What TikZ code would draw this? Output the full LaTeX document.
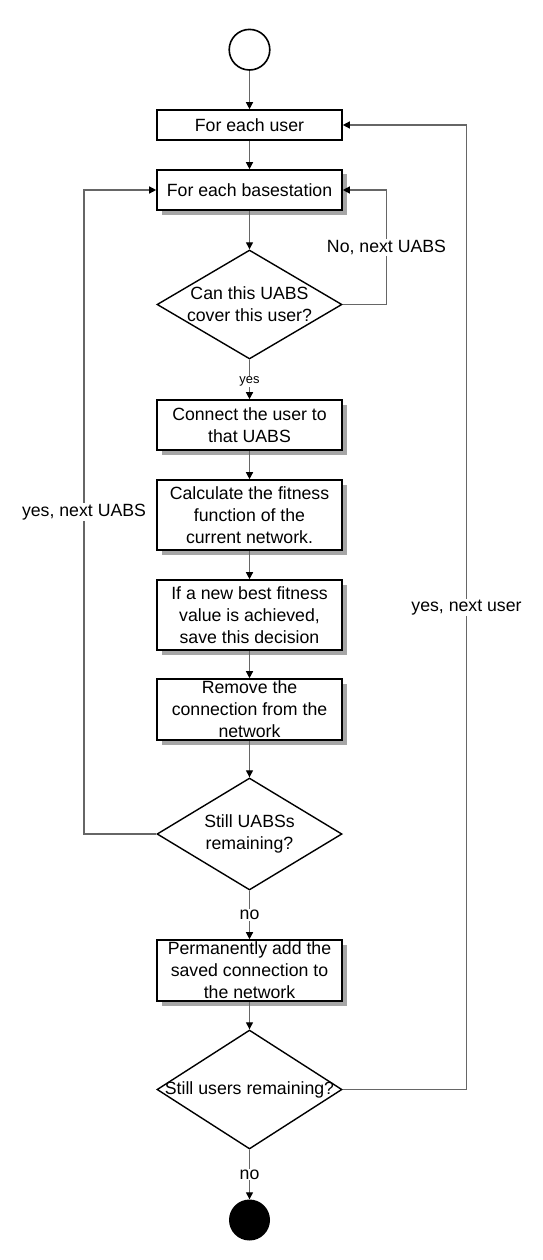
\documentclass[tikz,border=0pt]{standalone}
\usepackage{fontspec}
\setmainfont{Liberation Sans}
\usetikzlibrary{arrows.meta}
\usetikzlibrary{shapes.geometric}
\usetikzlibrary{shadows}
\tikzset{>={Triangle[length=7pt,width=7pt,color=black]}}
\colorlet{linegray}{black!60}
\colorlet{shadowgray}{black!35}
\tikzstyle{every node}=[font=\fontsize{17.7}{22}\selectfont]
\tikzstyle{box}=[draw=black,line width=1.6pt,fill=white,minimum width=185pt,
  inner ysep=0pt,align=center]
\tikzstyle{shadowbox}=[box,drop shadow={shadow xshift=4.5pt,shadow yshift=-4.5pt,
  fill=shadowgray,opacity=1}]
\tikzstyle{decision}=[draw=black,line width=1.4pt,diamond,minimum width=185pt,
  inner sep=0pt]
\tikzstyle{flow}=[->,line width=1.3pt,linegray]
\tikzstyle{lbl}=[fill=white,text=black,inner sep=1pt]

\begin{document}
\begin{tikzpicture}[x=1pt,y=-1pt]
  \useasboundingbox (0,0) rectangle (543,1260);
  \coordinate (lcol) at (84,0);    % left loop
  \coordinate (ncol) at (386.5,0); % inner loop
  \coordinate (rcol) at (466.5,0); % right loop

  % NODES
  \node[draw=black,line width=1.6pt,circle,minimum size=40.6pt,inner sep=0pt]
    (start) at (249.5,49.7) {};
  \node[box,minimum height=30pt] (user) at (249.5,125) {For each user};
  \node[shadowbox,minimum height=40pt] (base) at (249.5,190) {For each basestation};
  \node[decision,minimum height=109pt] (d1) at (249.5,304.5) {};
  \node[align=center] (d1txt) at (d1) {Can this UABS\\cover this user?};
  \node[shadowbox,minimum height=50pt] (conn) at (249.5,425) {Connect the user to\\that UABS};
  \node[shadowbox,minimum height=70pt] (calc) at (249.5,515)
    {Calculate the fitness\\function of the\\current network.};
  \node[shadowbox,minimum height=70pt] (best) at (249.5,615)
    {If a new best fitness\\value is achieved,\\save this decision};
  \node[shadowbox,minimum height=61pt] (remove) at (249.5,709.5)
    {Remove the\\connection from the\\network};
  \node[decision,minimum height=112pt] (d2) at (249.5,834) {};
  \node[align=center] (d2txt) at (d2) {Still UABSs\\remaining?};
  \node[shadowbox,minimum height=61pt] (perm) at (249.5,970.5)
    {Permanently add the\\saved connection to\\the network};
  \node[decision,minimum height=119pt] (d3) at (249.5,1089.5) {};
  \node (d3txt) at (d3) {Still users remaining?};
  \node[circle,fill=black,minimum size=41pt,inner sep=0pt] (stop) at (249.5,1220) {};

  % FLOW
  \draw[flow] (start) -- (user);
  \draw[flow] (user) -- (base);
  \draw[flow] (base) -- (d1);
  \draw[flow] (d1) -- node[lbl,pos=0.55,font=\fontsize{12.9}{15}\selectfont] (yes) {yes} (conn);
  \draw[flow] (conn) -- (calc);
  \draw[flow] (calc) -- (best);
  \draw[flow] (best) -- (remove);
  \draw[flow] (remove) -- (d2);
  \draw[flow] (d2) -- node[lbl] (no1) {no} (perm);
  \draw[flow] (perm) -- (d3);
  \draw[flow] (d3) -- node[lbl] (no2) {no} (stop);

  % LOOPS
  \draw[flow] (d1.east) -- (d1.east -| ncol) |- node[lbl,pos=0.25] (nonext) {No, next UABS} (base.east);
  \draw[flow] (d2.west) -- (d2.west -| lcol) |- node[lbl,pos=0.25] (yesnext) {yes, next UABS} (base.west);
  \draw[flow] (d3.east) -- (d3.east -| rcol) |- node[lbl,pos=0.25] (yesuser) {yes, next user} (user.east);
\end{tikzpicture}
\end{document}
